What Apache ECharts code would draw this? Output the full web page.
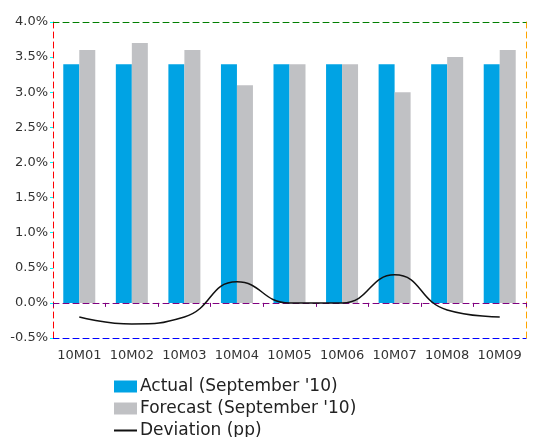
<!DOCTYPE html>
<html>
<head>
<meta charset="utf-8">
<script src="https://cdn.jsdelivr.net/npm/echarts@6/dist/echarts.min.js"></script>
<style>
  html, body { margin: 0; padding: 0; background: #fff; }
  #chart { width: 534px; height: 437px; }
</style>
</head>
<body>
<div id="chart"></div>
<script>
// Monthly inflation: actual vs. September '10 forecast, with the deviation in pp
const categories = ['10M01', '10M02', '10M03', '10M04', '10M05', '10M06', '10M07', '10M08', '10M09'];
const actual = [3.4, 3.4, 3.4, 3.4, 3.4, 3.4, 3.4, 3.4, 3.4];
const forecast = [3.6, 3.7, 3.6, 3.1, 3.4, 3.4, 3.0, 3.5, 3.6];
const deviation = [-0.2, -0.3, -0.2, 0.3, 0.0, 0.0, 0.4, -0.1, -0.2];
const yTicks = { min: -0.5, max: 4.0, step: 0.5 };

const FONT = 'DejaVu Sans';
const dash = [6, 4];
const plotRect = { left: 53, right: 8, top: 22, bottom: 99 };

function frameYAxis(position, gridIndex, color) {
  return {
    type: 'value', gridIndex: gridIndex,
    min: yTicks.min, max: yTicks.max, interval: yTicks.step,
    position: position,
    axisLine: { show: true, onZero: false, lineStyle: { color: color, type: dash, width: 1 } },
    axisTick: { show: false }, axisLabel: { show: false }, splitLine: { show: false }
  };
}

const chart = echarts.init(document.getElementById('chart'), null, { renderer: 'canvas' });

chart.setOption({
  animation: false,
  backgroundColor: '#fff',
  textStyle: { fontFamily: FONT },
  grid: [
    Object.assign({ containLabel: false }, plotRect),
    Object.assign({ containLabel: false }, plotRect)
  ],
  legend: {
    orient: 'vertical', left: 113, top: 378, height: 100, padding: 0,
    itemWidth: 23, itemHeight: 12, itemGap: 5,
    textStyle: { fontFamily: FONT, fontSize: 17, color: '#222', padding: [0, 0, 0, -2] },
    data: [
      { name: "Actual (September '10)", icon: 'rect' },
      { name: "Forecast (September '10)", icon: 'rect' },
      { name: 'Deviation (pp)', itemStyle: { opacity: 0 } }
    ]
  },
  xAxis: [
    { type: 'category', gridIndex: 0, data: categories, position: 'bottom',
      axisLine: { onZero: false, lineStyle: { color: 'blue', type: dash, width: 1 } },
      axisTick: { show: false },
      axisLabel: { interval: 0, fontFamily: FONT, fontSize: 13, color: '#333', margin: 11 } },
    { type: 'category', gridIndex: 0, data: categories, position: 'top',
      axisLine: { onZero: false, lineStyle: { color: 'green', type: dash, width: 1 } },
      axisTick: { show: false }, axisLabel: { show: false } },
    { type: 'category', gridIndex: 1, data: categories, position: 'bottom',
      axisLine: { onZero: true, lineStyle: { color: 'purple', type: dash, width: 1 } },
      axisTick: { show: true, interval: 0, length: 4, lineStyle: { color: 'purple', width: 1 } },
      axisLabel: { show: false } }
  ],
  yAxis: [
    { type: 'value', gridIndex: 0, min: yTicks.min, max: yTicks.max, interval: yTicks.step,
      position: 'left', axisLine: { show: false, onZero: false },
      axisTick: { show: true, length: 3, lineStyle: { color: 'cyan' } },
      axisLabel: { fontFamily: FONT, fontSize: 13, color: '#333', margin: 5, formatter: v => v.toFixed(1) + '%' },
      splitLine: { show: false } },
    frameYAxis('right', 0, 'orange'),
    frameYAxis('left', 1, 'red')
  ],
  series: [
    { name: "Actual (September '10)", type: 'bar', data: actual, barWidth: 16, barGap: '0%', itemStyle: { color: '#00A3E4' } },
    { name: "Forecast (September '10)", type: 'bar', data: forecast, barWidth: 16, barGap: '0%', itemStyle: { color: '#C0C1C4' } },
    { name: 'Deviation (pp)', type: 'line', data: deviation, smooth: 0.5, symbol: 'none', lineStyle: { color: '#111', width: 1.5 }, itemStyle: { color: '#111' }, z: 5 }
  ]
});
</script>
</body>
</html>
